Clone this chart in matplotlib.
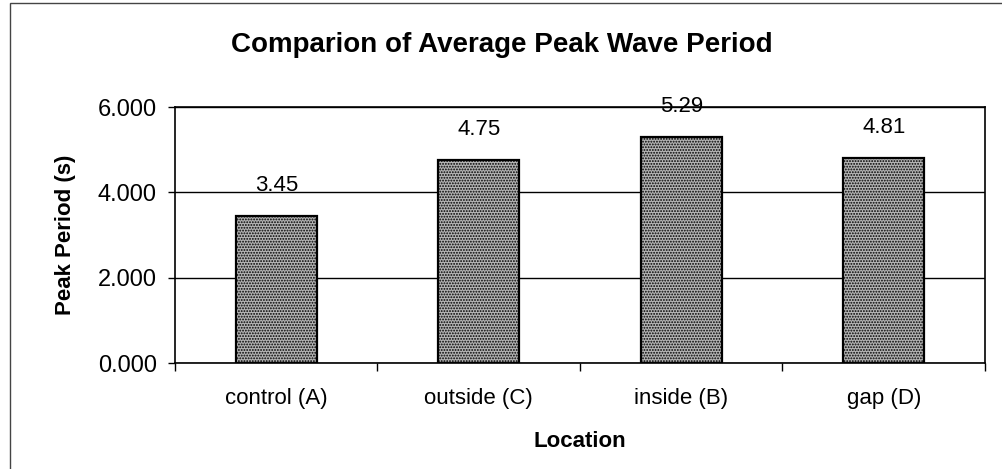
import numpy as np
import matplotlib
matplotlib.use("Agg")
from matplotlib import pyplot as plt
from matplotlib.patches import Rectangle

locations = ["control (A)", "outside (C)", "inside (B)", "gap (D)"]
peak_period = [3.45, 4.75, 5.29, 4.81]
y_ticks = [0, 2, 4, 6]

plt.rcParams['font.family'] = ['Liberation Sans', 'DejaVu Sans']
plt.rcParams['hatch.color'] = '#4a4a4a'
plt.rcParams['hatch.linewidth'] = 0.9

fig = plt.figure(figsize=(10.03, 4.69), dpi=100)
ax = fig.add_axes([175 / 1003, 1 - 363 / 469, (985 - 175) / 1003, (363 - 107) / 469])

x = np.arange(len(locations))
bars = ax.bar(x, peak_period, width=0.4, color='#b4b4b4', edgecolor='black',
              linewidth=1.6, hatch='......', zorder=3)

for rect, v in zip(bars, peak_period):
    ax.annotate(f"{v:.2f}", (rect.get_x() + rect.get_width() / 2, v),
                xytext=(0, 22), textcoords='offset points',
                ha='center', va='center', fontsize=16, zorder=4)

ax.set_xlim(-0.5, len(locations) - 0.5)
ax.set_ylim(0, 6)
ax.set_yticks(y_ticks)
ax.set_yticklabels([f"{t:.3f}" for t in y_ticks], fontsize=17)
ax.set_xticks(x)
ax.set_xticklabels(locations, fontsize=16)
ax.set_xticks(np.arange(len(locations) + 1) - 0.5, minor=True)
ax.tick_params(axis='x', which='major', length=0, pad=18)
ax.tick_params(axis='x', which='minor', length=6, direction='out', width=1)
ax.tick_params(axis='y', length=5, direction='out', width=1, pad=8)
ax.yaxis.grid(True, color='black', linewidth=1, zorder=0)

for s in ax.spines.values():
    s.set_linewidth(1.2)

ax.set_ylabel("Peak Period (s)", fontsize=16, fontweight='bold', labelpad=16)
ax.set_xlabel("Location", fontsize=16, fontweight='bold', labelpad=16)
fig.text(0.5, 1 - 45 / 469, "Comparion of Average Peak Wave Period",
         ha='center', va='center', fontsize=20, fontweight='bold')

# outer chart frame
fig.patches.append(Rectangle((10 / 1003, -0.01), 1.02, 1 - 3 / 469 + 0.01,
                             transform=fig.transFigure, fill=False,
                             edgecolor='#444444', linewidth=1.0))

fig.savefig("out.png", dpi=100)
